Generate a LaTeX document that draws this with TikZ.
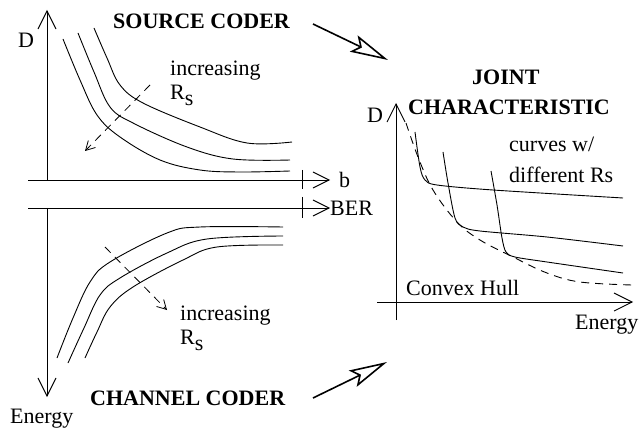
\documentclass[tikz,border=0pt]{standalone}
\usepackage{fontspec}
\setmainfont{Liberation Serif}
\usetikzlibrary{arrows.meta}
\begin{document}
\begin{tikzpicture}[x=1pt,y=-1pt,
  curve/.style={line width=0.9pt},
  axisline/.style={line width=0.9pt},
  barb/.style={-{Straight Barb[length=18pt,width=18pt,line width=0.9pt]}},
  smallbarb/.style={-{Straight Barb[length=16pt,width=16pt,line width=0.9pt]}},
  dasharrow/.style={line width=0.8pt,dash pattern=on 8pt off 6pt,-{Straight Barb[length=9pt,width=10pt,line width=0.8pt]}},
  hull/.style={line width=0.9pt,dash pattern=on 8pt off 6pt},
  bigarrow/.style={line width=1.6pt,-{Stealth[open,length=38pt,width=18pt,inset=7pt,line width=1.6pt]}},
  lbl/.style={inner sep=0pt,anchor=base west,font=\fontsize{22}{24}\selectfont},
  lbl2/.style={inner sep=0pt,anchor=base west,align=left,font=\fontsize{22}{24}\selectfont},
  ttl/.style={inner sep=0pt,anchor=base west,font=\fontsize{22}{24}\selectfont\bfseries}]
\useasboundingbox (0,0) rectangle (639,430);

% ---------- coordinates ----------
\coordinate (uo) at (47,180);
\coordinate (uy) at (47,10);
\coordinate (bl) at (28,180);
\coordinate (bt) at (330,180);
\coordinate (Bl) at (28,208);
\coordinate (Bt) at (330,208);
\coordinate (eo) at (47,208);
\coordinate (et) at (47,397);
\coordinate (t1a) at (302,170);
\coordinate (t1b) at (302,189);
\coordinate (t2a) at (302,197);
\coordinate (t2b) at (302,218);
\coordinate (ro) at (396,320);
\coordinate (ry) at (396,103);
\coordinate (rl) at (377,302);
\coordinate (rt) at (633,302);
\coordinate (a1s) at (313,24);
\coordinate (a1t) at (388,60);
\coordinate (a2s) at (313,398);
\coordinate (a2t) at (387,362);
\coordinate (d1s) at (150,85);
\coordinate (d1t) at (85,151);
\coordinate (d2s) at (105,247);
\coordinate (d2t) at (167,310);

% ---------- axes ----------
\draw[axisline,barb] (uo) -- (uy);
\draw[axisline,smallbarb] (bl) -- (bt);
\draw[axisline,smallbarb] (Bl) -- (Bt);
\draw[axisline,barb] (eo) -- (et);
\draw[axisline] (t1a) -- (t1b);
\draw[axisline] (t2a) -- (t2b);
\draw[axisline,barb] (ro) -- (ry);
\draw[axisline,barb] (rl) -- (rt);

% ---------- source coder curves ----------
\draw[curve] plot[smooth,tension=0.6] coordinates {(63,39) (80,80) (97,115) (120,137) (160,160) (200,170) (240,172) (290,171)};
\draw[curve] plot[smooth,tension=0.6] coordinates {(78,33) (94,72) (110,107) (133,123) (187,147) (233,159) (290,160)};
\draw[curve] plot[smooth,tension=0.6] coordinates {(94,28) (107,58) (120,85) (143,103) (200,127) (247,143) (292,142)};
\draw[dasharrow] (d1s) -- (d1t);

% ---------- channel coder curves ----------
\draw[curve] plot[smooth,tension=0.6] coordinates {(57,358) (73,318) (90,282) (110,262) (167,233) (200,227) (283,227)};
\draw[curve] plot[smooth,tension=0.6] coordinates {(68,363) (84,328) (100,295) (120,278) (167,253) (207,239) (283,236)};
\draw[curve] plot[smooth,tension=0.6] coordinates {(85,358) (97,332) (110,307) (133,287) (183,260) (217,247) (283,245)};
\draw[dasharrow] (d2s) -- (d2t);

% ---------- joint characteristic ----------
\draw[curve] plot[smooth,tension=0.5] coordinates {(415,132) (420,167) (425,180) (437,185) (493,190) (623,198)};
\draw[curve] plot[smooth,tension=0.5] coordinates {(443,152) (448,183) (455,218) (463,227) (480,231) (547,237) (623,246)};
\draw[curve] plot[smooth,tension=0.5] coordinates {(491,171) (497,205) (502,238) (506,252) (515,257) (547,262) (623,273)};
\draw[hull] plot[smooth,tension=0.6] coordinates {(406,123) (418,157) (433,190) (457,222) (480,240) (513,257) (547,273) (580,282) (632,285)};

% ---------- big arrows ----------
\draw[bigarrow] (a1s) -- (a1t);
\draw[bigarrow] (a2s) -- (a2t);

% ---------- labels ----------
\node[lbl] (lD) at (18,48) {D};
\node[ttl] (lsrc) at (113,29) {SOURCE CODER};
\node[lbl2] (linc1) at (170,100) {increasing\\R\raisebox{-6pt}{s}};
\node[lbl] (lb) at (339,188) {b};
\node[lbl] (lber) at (330,215) {BER};
\node[lbl2] (linc2) at (180,344) {increasing\\R\raisebox{-6pt}{s}};
\node[ttl] (lch) at (90,405) {CHANNEL CODER};
\node[lbl] (lE1) at (10,423) {Energy};
\node[lbl] (lD2) at (367,123) {D};
\node[ttl] (lj1) at (472,85) {JOINT};
\node[ttl] (lj2) at (408,115) {CHARACTERISTIC};
\node[lbl] (lc1) at (509,152) {curves w/};
\node[lbl] (lc2) at (509,183) {different Rs};
\node[lbl] (lhull) at (406,295) {Convex Hull};
\node[lbl] (lE2) at (575,329) {Energy};
\end{tikzpicture}
\end{document}
